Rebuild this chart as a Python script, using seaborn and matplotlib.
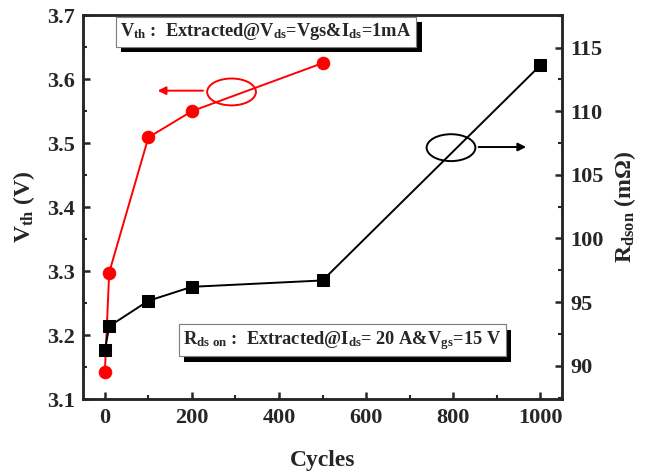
import numpy as np
import pandas as pd
import seaborn as sns
import matplotlib.pyplot as plt
from matplotlib.patches import Ellipse
from matplotlib.ticker import MultipleLocator
import matplotlib.patheffects as pe

# data
cycles_vth = [0, 10, 100, 200, 500]
vth = [3.142, 3.298, 3.509, 3.550, 3.625]
cycles_rds = [0, 10, 100, 200, 500, 1000]
rdson = [91.2, 93.1, 95.1, 96.2, 96.7, 113.6]

sns.set_style('ticks')
plt.rcParams['font.family'] = ['Liberation Serif', 'Noto Sans CJK SC']
plt.rcParams['font.weight'] = 'bold'
plt.rcParams['mathtext.fontset'] = 'custom'
plt.rcParams['mathtext.rm'] = 'Liberation Serif:bold'
plt.rcParams['mathtext.it'] = 'Liberation Serif:bold'
plt.rcParams['mathtext.bf'] = 'Liberation Serif:bold'

fig = plt.figure(figsize=(6.49, 4.72), dpi=100)
ax = fig.add_axes([0.128, 0.154, 0.738, 0.814])
ax2 = ax.twinx()

sns.lineplot(x=cycles_vth, y=vth, ax=ax, color='red', marker='o',
             markersize=9, markeredgecolor='red', linewidth=1.4)
sns.lineplot(x=cycles_rds, y=rdson, ax=ax2, color='black', marker='s',
             markersize=8, markeredgecolor='black', linewidth=1.4)

ax.set_xlim(-50, 1050)
ax.set_ylim(3.1, 3.7)
ax2.set_ylim(87.36, 117.55)

ax.xaxis.set_major_locator(MultipleLocator(200))
ax.xaxis.set_minor_locator(MultipleLocator(100))
ax.yaxis.set_major_locator(MultipleLocator(0.1))
ax.yaxis.set_minor_locator(MultipleLocator(0.05))
ax2.yaxis.set_major_locator(MultipleLocator(5))
ax2.yaxis.set_minor_locator(MultipleLocator(2.5))

for a in (ax, ax2):
    for s in a.spines.values():
        s.set_linewidth(1.8)
    a.tick_params(which='major', direction='in', length=5, width=1.8,
                  labelsize=16, pad=6)
    a.tick_params(which='minor', direction='in', length=3, width=1.5)
ax.tick_params(axis='y', which='both', right=False)
ax.tick_params(axis='x', which='both', top=False)

ax.set_xlabel('Cycles', fontsize=17, fontweight='bold', labelpad=16)
ax.set_ylabel('V$_{\\mathrm{th}}$ (V)', fontsize=17, fontweight='bold', labelpad=7)
ax2.set_ylabel('R$_{\\mathrm{dson}}$ (m\u03a9)', fontsize=17, fontweight='bold',
               labelpad=6)

# annotation ellipses and arrows
ax.add_patch(Ellipse((291, 3.580), 112, 0.042, fill=False, edgecolor='red', lw=1.4))
ax.annotate('', xy=(115, 3.582), xytext=(232, 3.582),
            arrowprops=dict(arrowstyle='-|>', color='red', lw=1.4, mutation_scale=12))
ax.add_patch(Ellipse((795, 3.493), 112, 0.042, fill=False, edgecolor='black', lw=1.4))
ax.annotate('', xy=(974, 3.494), xytext=(852, 3.494),
            arrowprops=dict(arrowstyle='-|>', color='black', lw=1.4, mutation_scale=12))

box = dict(boxstyle='square,pad=0.25', facecolor='white', edgecolor='gray', lw=0.8)
t1 = ax2.text(0.382, 0.957,
              'V$_{\\mathrm{th}}$ :  Extracted@V$_{\\mathrm{ds}}$=Vgs&I$_{\\mathrm{ds}}$=1mA',
              transform=ax.transAxes, ha='center', va='center', fontsize=13.2,
              fontweight='bold', bbox=box, zorder=5)
t2 = ax2.text(0.541, 0.154,
              'R$_{\\mathrm{ds\\ on}}$ :  Extracted@I$_{\\mathrm{ds}}$= 20 A&V$_{\\mathrm{gs}}$=15 V',
              transform=ax.transAxes, ha='center', va='center', fontsize=13.2,
              fontweight='bold', bbox=box, zorder=5)
for t in (t1, t2):
    t.get_bbox_patch().set_path_effects([
        pe.withSimplePatchShadow(offset=(4, -4), shadow_rgbFace='black', alpha=1.0),
        pe.Normal()])

fig.savefig('out.png', dpi=100)
